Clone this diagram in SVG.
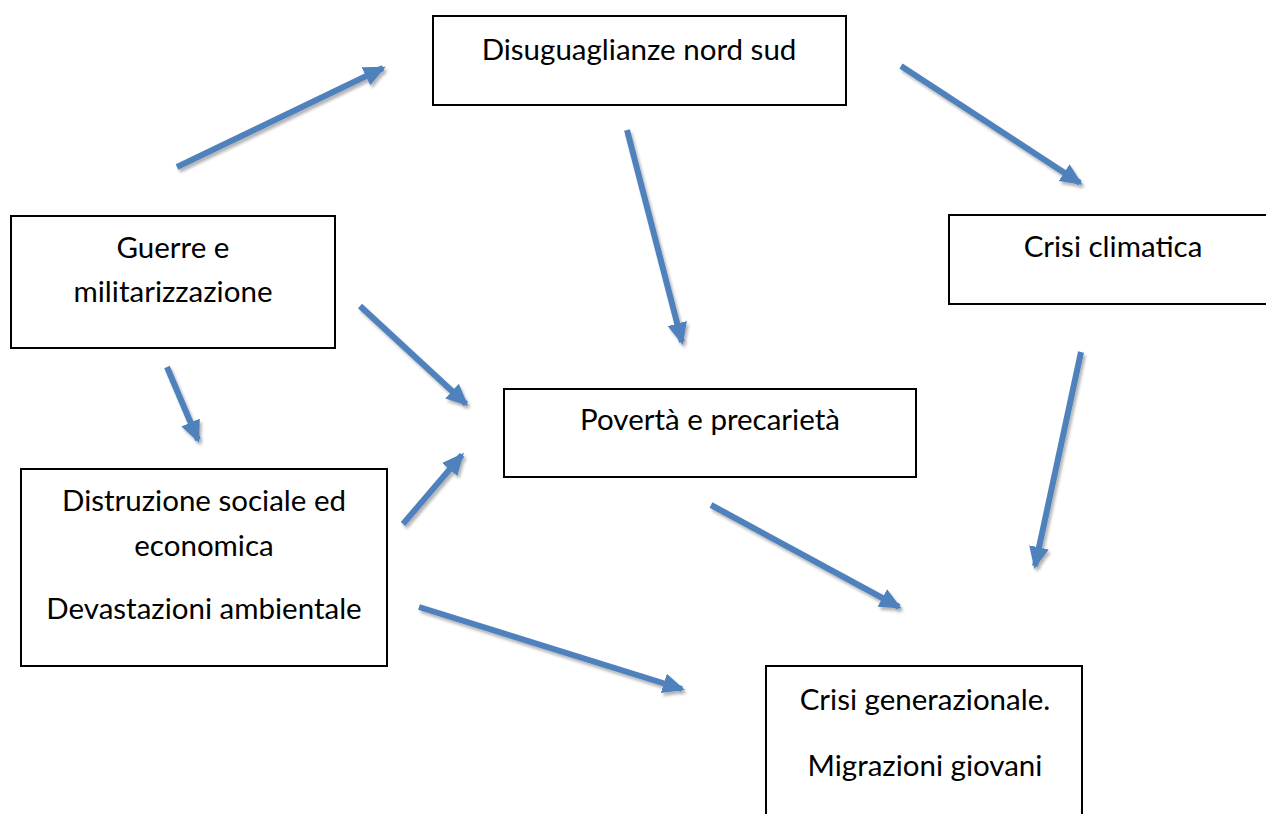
<svg xmlns="http://www.w3.org/2000/svg" width="1266" height="814" viewBox="0 0 1266 814">
<style>
.box{fill:#fff;stroke:#000;stroke-width:2}
.t{font-family:Lato,"Liberation Sans",sans-serif;font-size:29.5px;fill:#000;text-anchor:middle}
.c{stroke:#4F81BD;stroke-width:6;fill:none;marker-end:url(#ah);filter:url(#sh)}
</style>
<defs>
<marker id="ah" markerUnits="userSpaceOnUse" markerWidth="22" markerHeight="22" viewBox="0 0 22 22" refX="19" refY="11" orient="auto">
<path d="M0,1 L22,11 L0,21 Z" fill="#4F81BD"/>
</marker>
<filter id="sh" x="-20%" y="-20%" width="140%" height="140%">
<feGaussianBlur in="SourceAlpha" stdDeviation="1.5"/>
<feOffset dx="1.5" dy="2.5" result="b"/>
<feComponentTransfer><feFuncA type="linear" slope="0.3"/></feComponentTransfer>
<feMerge><feMergeNode/><feMergeNode in="SourceGraphic"/></feMerge>
</filter>
</defs>
<rect width="1266" height="814" fill="#fff"/>
<g id="connectors">
<line class="c" x1="177" y1="167" x2="383" y2="68"/>
<line class="c" x1="901" y1="66" x2="1080" y2="183"/>
<line class="c" x1="627" y1="130" x2="682" y2="342"/>
<line class="c" x1="1081" y1="352" x2="1035" y2="566"/>
<line class="c" x1="360" y1="306" x2="466" y2="404"/>
<line class="c" x1="167" y1="367" x2="198" y2="440"/>
<line class="c" x1="403" y1="524" x2="462" y2="455"/>
<line class="c" x1="711" y1="505" x2="899" y2="607"/>
<line class="c" x1="419" y1="607" x2="682" y2="689"/>
</g>
<g id="n-disuguaglianze">
<rect class="box" x="433" y="16" width="413" height="89"/>
<text class="t" x="639" y="60">Disuguaglianze nord sud</text>
</g>
<g id="n-guerre">
<rect class="box" x="11" y="216" width="324" height="132"/>
<text class="t" x="173" y="258">Guerre e</text>
<text class="t" x="173" y="302">militarizzazione</text>
</g>
<g id="n-clima">
<rect class="box" x="949" y="215" width="330" height="89"/>
<text class="t" x="1113" y="257">Crisi climatica</text>
</g>
<g id="n-poverta">
<rect class="box" x="504" y="389" width="412" height="88"/>
<text class="t" x="710" y="430">Povertà e precarietà</text>
</g>
<g id="n-distruzione">
<rect class="box" x="21" y="469" width="366" height="197"/>
<text class="t" x="204" y="511">Distruzione sociale ed</text>
<text class="t" x="204" y="556">economica</text>
<text class="t" x="204" y="619">Devastazioni ambientale</text>
</g>
<g id="n-generazionale">
<rect class="box" x="766" y="666" width="316" height="160"/>
<text class="t" x="925" y="710">Crisi generazionale.</text>
<text class="t" x="925" y="776">Migrazioni giovani</text>
</g>
</svg>
